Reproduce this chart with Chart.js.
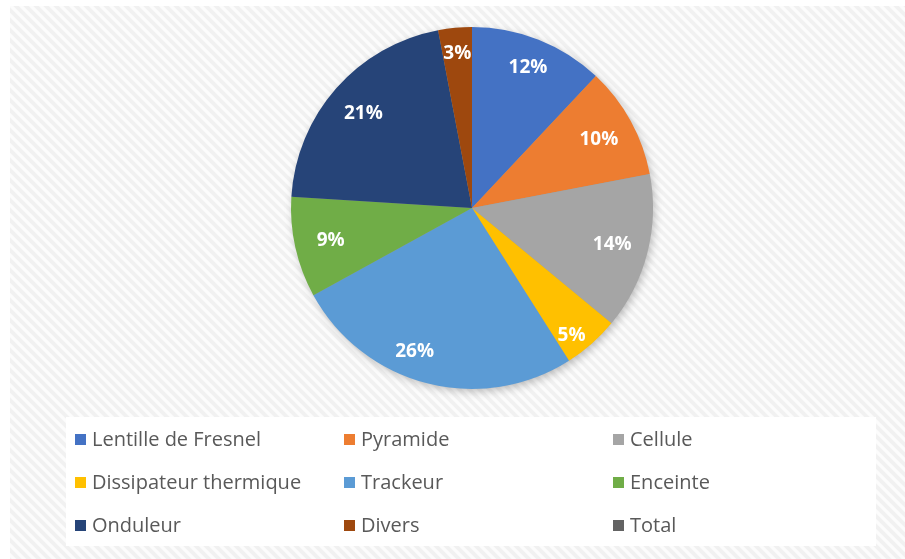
<!DOCTYPE html>
<html>
<head>
<meta charset="utf-8">
<script src="https://cdn.jsdelivr.net/npm/chart.js@4.4.1/dist/chart.umd.min.js"></script>
<style>
  html, body { margin: 0; padding: 0; background: #fff; }
  #wrap { width: 905px; height: 559px; position: relative; }
</style>
</head>
<body>
<div id="wrap"><canvas id="pieChart" width="905" height="559"></canvas></div>
<script>
var categories = ['Lentille de Fresnel', 'Pyramide', 'Cellule', 'Dissipateur thermique', 'Trackeur', 'Enceinte', 'Onduleur', 'Divers', 'Total'];
var shares = [12, 10, 14, 5, 26, 9, 21, 3, 0];
var colors = ['#4472C4', '#ED7D31', '#A5A5A5', '#FFC000', '#5B9BD5', '#70AD47', '#264478', '#9E480E', '#636363'];

// striped backdrop, white legend panel and the pie's drop shadow
var backdrop = {
	id: 'backdrop',
	beforeDraw: function(chart) {
		var c = chart.ctx;
		var tile = document.createElement('canvas');
		tile.width = 10; tile.height = 10;
		var t = tile.getContext('2d');
		t.fillStyle = '#fcfcfc';
		t.fillRect(0, 0, 10, 10);
		t.strokeStyle = 'rgba(0,0,0,0.045)';
		t.lineWidth = 4;
		t.beginPath();
		t.moveTo(-5, -5); t.lineTo(15, 15);
		t.moveTo(-15, -5); t.lineTo(5, 15);
		t.moveTo(5, -5); t.lineTo(25, 15);
		t.stroke();
		c.save();
		c.fillStyle = '#ffffff';
		c.fillRect(0, 0, chart.width, chart.height);
		c.fillStyle = c.createPattern(tile, 'repeat');
		c.fillRect(10, 6, chart.width - 10, chart.height - 6);
		c.fillStyle = 'rgba(255,255,255,0.95)';
		c.fillRect(66, 417, 810, 129);
		c.restore();
	},
	beforeDatasetsDraw: function(chart) {
		var arc = chart.getDatasetMeta(0).data[0];
		var c = chart.ctx;
		c.save();
		c.shadowColor = 'rgba(0,0,0,0.28)';
		c.shadowBlur = 10;
		c.shadowOffsetX = 2;
		c.shadowOffsetY = 3;
		c.fillStyle = '#9a9a9a';
		c.beginPath();
		c.arc(arc.x, arc.y, arc.outerRadius - 1, 0, Math.PI * 2);
		c.fill();
		c.restore();
	}
};

// percentage labels inside the slices
var sliceLabels = {
	id: 'sliceLabels',
	afterDatasetsDraw: function(chart, args, opts) {
		var c = chart.ctx;
		var meta = chart.getDatasetMeta(0);
		c.save();
		c.font = 'bold 19px "Open Sans", sans-serif';
		c.fillStyle = '#ffffff';
		c.textAlign = 'center';
		c.textBaseline = 'middle';
		meta.data.forEach(function(a, i) {
			var v = chart.data.datasets[0].data[i];
			if (!v) return;
			var tweak = opts.tweak[i] || {};
			var f = tweak.frac !== undefined ? tweak.frac : 0.5;
			var r = a.outerRadius * (tweak.r || 0.8);
			var ang = a.startAngle + (a.endAngle - a.startAngle) * f;
			c.fillText(v + '%', a.x + Math.cos(ang) * r, a.y + Math.sin(ang) * r + 1);
		});
		c.restore();
	}
};

// three-column legend drawn under the pie
var gridLegend = {
	id: 'gridLegend',
	afterDraw: function(chart) {
		var c = chart.ctx;
		var labels = chart.data.labels;
		var bg = chart.data.datasets[0].backgroundColor;
		c.save();
		c.font = '20px "Open Sans", sans-serif';
		c.textBaseline = 'middle';
		c.textAlign = 'left';
		labels.forEach(function(l, i) {
			var x = 75 + (i % 3) * 269;
			var y = 439 + Math.floor(i / 3) * 43;
			c.fillStyle = bg[i];
			c.fillRect(x, y - 5, 11, 11);
			c.fillStyle = '#595959';
			c.fillText(l, x + 17, y + 1);
		});
		c.restore();
	}
};

var ctx = document.getElementById('pieChart').getContext('2d');
var pieChart = new Chart(ctx, {
	type: 'pie',
	data: {
		labels: categories,
		datasets: [{
			data: shares,
			backgroundColor: colors,
			borderWidth: 0
		}]
	},
	options: {
		responsive: false,
		animation: false,
		layout: {
			padding: { left: 39, right: 0, top: 27, bottom: 170 }
		},
		plugins: {
			legend: { display: false },
			tooltip: { enabled: false },
			sliceLabels: {
				tweak: {
					0: { r: 0.84 },
					3: { frac: 0.68, r: 0.89 },
					4: { frac: 0.58, r: 0.85 },
					7: { r: 0.86 }
				}
			}
		}
	},
	plugins: [backdrop, sliceLabels, gridLegend]
});
</script>
</body>
</html>
